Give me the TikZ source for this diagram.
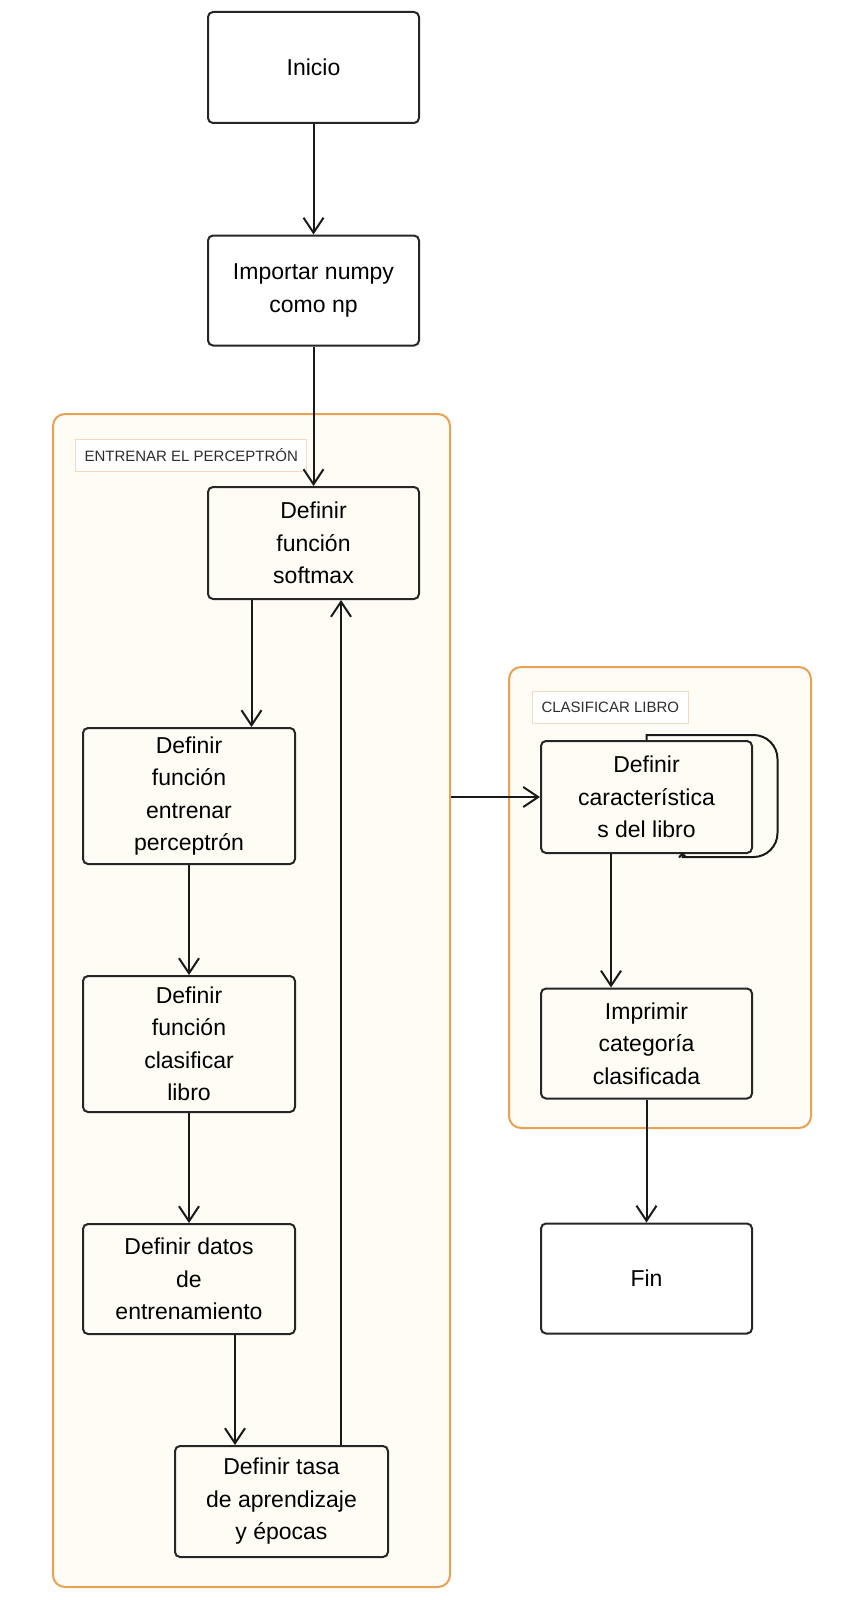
\documentclass[tikz,border=0pt]{standalone}
\usepackage{fontspec}
\setmainfont{Liberation Sans}
\usetikzlibrary{positioning}
\usetikzlibrary{arrows.meta}
\definecolor{clusterfill}{RGB}{255,252,246}
\definecolor{clusterline}{RGB}{232,162,84}
\definecolor{labelline}{RGB}{246,216,192}
\definecolor{labeltext}{RGB}{45,45,45}
\tikzset{
    flowbox/.style = {rectangle, rounded corners=5pt, line width=2pt, draw=black!85, align=center, minimum width=211pt, minimum height=110pt, inner sep=2pt, font=\fontsize{23}{32.5}\selectfont},
    clusterbox/.style = {rectangle, rounded corners=12pt, line width=2pt, draw=clusterline, fill=clusterfill},
    clusterlabel/.style = {rectangle, draw=labelline, line width=1pt, fill=white, text=labeltext, anchor=west, minimum height=32pt, inner xsep=9pt, font=\fontsize{15}{18}\selectfont},
    edgen/.style = {-{Straight Barb[length=15pt,width=20pt]}, line width=2pt, black!90},
    edgel/.style = {-{Straight Barb[length=4pt,width=7pt]}, line width=2pt, black!90}, % loop
}
\begin{document}
\begin{tikzpicture}[x=1pt,y=-1pt]
\path[use as bounding box, fill=white] (0,0) rectangle (862,1600);
%
\node[clusterbox, minimum width=397pt, minimum height=1173pt] at (251.5,1000.5) (train) {};
\node[clusterbox, minimum width=302pt, minimum height=461pt] at (660,897.5) (classify) {};
\node[clusterlabel] at (75,455) (trainlbl) {ENTRENAR EL PERCEPTRÓN};
\node[clusterlabel] at (532,707.5) (classifylbl) {CLASIFICAR LIBRO};
%
\node[flowbox, minimum height=111pt] at (313.5,67.5) (inicio) {Inicio};
\node[flowbox] at (313.5,290.5) (numpy) {Importar numpy\\como np};
\node[flowbox, minimum height=112pt] at (313.5,543) (softmax) {Definir\\función\\softmax};
\node[flowbox, minimum height=136pt, minimum width=212pt] at (189,796) (entrenar) {Definir\\función\\entrenar\\perceptrón};
\node[flowbox, minimum height=136pt, minimum width=212pt] at (189,1044) (clasificar) {Definir\\función\\clasificar\\libro};
\node[flowbox, minimum width=212pt] at (189,1279) (datos) {Definir datos\\de\\entrenamiento};
\node[flowbox, minimum height=111pt, minimum width=213pt] at (281.5,1501.5) (tasa) {Definir tasa\\de aprendizaje\\y épocas};
\node[flowbox, minimum height=112pt] at (646.5,797) (caract) {Definir\\característica\\s del libro};
\node[flowbox] at (646.5,1043.5) (imprimir) {Imprimir\\categoría\\clasificada};
\node[flowbox] at (646.5,1278.5) (fin) {Fin};
%
\draw[edgen] (inicio) -- (numpy);
\draw[edgen] (numpy) -- (softmax);
\draw[edgen] ([xshift=-62pt]softmax.south) -- ([xshift=62.5pt]entrenar.north);
\draw[edgen] (entrenar) -- (clasificar);
\draw[edgen] (clasificar) -- (datos);
\draw[edgen] ([xshift=46pt]datos.south) -- ([xshift=-46.5pt]tasa.north);
\draw[edgen] ([xshift=59.5pt]tasa.north) -- ([xshift=27.5pt]softmax.south);
\draw[edgen] (caract.west -| train.east) -- (caract.west);
\draw[edgen] ([xshift=-35.5pt]caract.south) -- ([xshift=-35.5pt]imprimir.north);
\draw[edgen] (imprimir) -- (fin);
\draw[edgel] (caract.north) -- ++(0,-5) -- ++(107,0) arc[start angle=270, end angle=360, radius=24]
    -- ++(0,74) arc[start angle=0, end angle=90, radius=24] -- ++(-71,0) -- ++(0,-5);
\end{tikzpicture}
\end{document}
